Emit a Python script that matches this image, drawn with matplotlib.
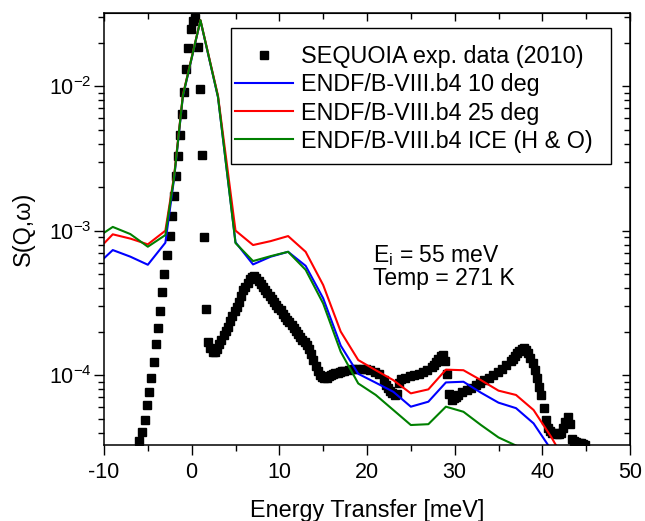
import numpy as np
import matplotlib
matplotlib.use("Agg")
import matplotlib.pyplot as plt
from matplotlib.ticker import LogLocator, MultipleLocator, NullFormatter
from matplotlib.patches import Rectangle

plt.rcParams['font.family'] = ['Liberation Sans', 'DejaVu Sans']
plt.rcParams['axes.unicode_minus'] = False
plt.rcParams['mathtext.fontset'] = 'custom'
plt.rcParams['mathtext.rm'] = 'Liberation Sans'
plt.rcParams['mathtext.it'] = 'Liberation Sans'

exp_e = [-5.97, -5.63, -5.32, -5.13, -4.9, -4.65, -4.34, -4.12, -3.89, -3.65,
         -3.35, -3.12, -2.85, -2.47, -2.24, -2.05, -1.82, -1.56, -1.37, -1.11,
         -0.88, -0.68, -0.39, -0.08, 0.18, 0.43, 0.68, 0.90, 1.16, 1.36,
         1.63, 1.89, 2.14, 2.39, 2.64, 2.89, 3.14, 3.39, 3.64, 3.89,
         4.14, 4.39, 4.64, 4.89, 5.14, 5.39, 5.64, 5.89, 6.14, 6.39,
         6.64, 6.89, 7.14, 7.39, 7.64, 7.89, 8.14, 8.39, 8.64, 8.89,
         9.14, 9.39, 9.64, 9.89, 10.14, 10.39, 10.64, 10.89, 11.14, 11.39,
         11.64, 11.89, 12.14, 12.39, 12.64, 12.89, 13.14, 13.39, 13.64, 13.89,
         14.14, 14.39, 14.64, 14.89, 15.14, 15.39, 15.64, 15.89, 16.14, 16.39,
         16.64, 16.89, 17.14, 17.39, 17.89, 18.39, 18.89, 19.39, 19.89, 20.39,
         20.89, 21.39, 21.89, 22.14, 22.39, 22.64, 22.89, 23.14, 23.39, 23.64,
         23.89, 24.39, 24.89, 25.39, 25.89, 26.39, 26.89, 27.39, 27.64, 27.89,
         28.14, 28.39, 28.64, 28.89, 29.14, 29.39, 29.64, 29.89, 30.14, 30.39,
         30.89, 31.39, 31.89, 32.39, 32.89, 33.39, 33.89, 34.39, 34.89, 35.39,
         35.89, 36.39, 36.64, 36.89, 37.14, 37.39, 37.64, 37.89, 38.14, 38.39,
         38.64, 38.89, 39.14, 39.39, 39.64, 39.89, 40.14, 40.39, 40.64, 40.89,
         41.14, 41.39, 41.64, 41.89, 42.14, 42.39, 42.64, 42.89, 43.14, 43.39,
         43.64, 43.89, 44.14, 44.39, 44.64, 44.89]
exp_s = [3.5e-5, 4.04e-5, 4.9e-5, 6.2e-5, 7.6e-5, 9.5e-5, 1.24e-4, 1.65e-4, 2.11e-4, 2.79e-4,
         3.73e-4, 4.97e-4, 6.77e-4, 9.16e-4, 1.26e-3, 1.73e-3, 2.38e-3, 3.30e-3, 4.56e-3, 6.4e-3,
         9.14e-3, 1.305e-2, 1.846e-2, 2.47e-2, 2.83e-2, 2.95e-2, 1.87e-2, 9.5e-3, 3.35e-3, 8.97e-4,
         2.85e-4, 1.69e-4, 1.55e-4, 1.45e-4, 1.44e-4, 1.52e-4, 1.63e-4, 1.76e-4, 1.90e-4, 2.02e-4,
         2.16e-4, 2.35e-4, 2.55e-4, 2.77e-4, 2.97e-4, 3.2e-4, 3.5e-4, 3.85e-4, 4.1e-4, 4.35e-4,
         4.6e-4, 4.8e-4, 4.85e-4, 4.7e-4, 4.5e-4, 4.3e-4, 4.1e-4, 3.9e-4, 3.7e-4, 3.5e-4,
         3.35e-4, 3.2e-4, 3.07e-4, 2.93e-4, 2.8e-4, 2.65e-4, 2.52e-4, 2.42e-4, 2.32e-4, 2.22e-4,
         2.12e-4, 2.02e-4, 1.92e-4, 1.83e-4, 1.74e-4, 1.68e-4, 1.62e-4, 1.52e-4, 1.40e-4, 1.27e-4,
         1.16e-4, 1.06e-4, 1.0e-4, 9.7e-5, 9.6e-5, 9.6e-5, 9.8e-5, 1.0e-4, 1.02e-4, 1.03e-4,
         1.04e-4, 1.05e-4, 1.06e-4, 1.07e-4, 1.08e-4, 1.10e-4, 1.11e-4, 1.11e-4, 1.10e-4, 1.08e-4,
         1.05e-4, 1.01e-4, 9.2e-5, 8.6e-5, 8.2e-5, 7.8e-5, 7.5e-5, 7.3e-5, 7.4e-5, 8.8e-5,
         9.4e-5, 9.6e-5, 9.8e-5, 1.0e-4, 1.02e-4, 1.05e-4, 1.08e-4, 1.13e-4, 1.18e-4, 1.24e-4,
         1.30e-4, 1.35e-4, 1.38e-4, 1.26e-4, 1.02e-4, 7.4e-5, 6.7e-5, 6.9e-5, 7.1e-5, 7.3e-5,
         7.6e-5, 7.9e-5, 8.2e-5, 8.5e-5, 8.8e-5, 9.2e-5, 9.6e-5, 1.0e-4, 1.05e-4, 1.1e-4,
         1.17e-4, 1.25e-4, 1.3e-4, 1.36e-4, 1.42e-4, 1.47e-4, 1.52e-4, 1.55e-4, 1.50e-4, 1.41e-4,
         1.32e-4, 1.22e-4, 1.09e-4, 9.5e-5, 8.3e-5, 7.3e-5, 5.9e-5, 4.9e-5, 4.3e-5, 4.1e-5,
         4.0e-5, 3.95e-5, 3.9e-5, 3.9e-5, 4.0e-5, 4.3e-5, 4.7e-5, 5.1e-5, 4.6e-5, 3.6e-5,
         3.5e-5, 3.45e-5, 3.4e-5, 3.38e-5, 3.35e-5, 3.3e-5]

# ENDF/B-VIII.b4 calculations
calc_e = [-11, -9, -7, -5, -3, -2, -1, 1, 3, 5, 7, 9, 11, 13, 15,
          17, 19, 21, 23, 25, 27, 29, 31, 33, 35, 37, 39, 41, 43]
s_10deg = [5.64e-4, 7.33e-4, 6.6e-4, 5.8e-4, 8.24e-4, 2.3e-3, 8.5e-3, 2.84e-2, 8.4e-3, 8.3e-4,
           5.83e-4, 6.59e-4, 7.13e-4, 5.7e-4, 3.4e-4, 1.6e-4, 1.02e-4, 8.85e-5, 7.66e-5, 6.04e-5,
           6.54e-5, 8.89e-5, 8.99e-5, 7.55e-5, 6.44e-5, 5.9e-5, 4.63e-5, 3.05e-5, 2.0e-5]
s_25deg = [7.05e-4, 9.42e-4, 8.8e-4, 8.03e-4, 9.98e-4, 2.4e-3, 8.7e-3, 2.86e-2, 8.6e-3, 1.0e-3,
           7.94e-4, 8.45e-4, 9.16e-4, 7.13e-4, 4.2e-4, 2.0e-4, 1.27e-4, 1.08e-4, 9.22e-5, 7.47e-5,
           7.96e-5, 1.09e-4, 1.08e-4, 9.22e-5, 7.8e-5, 7.28e-5, 5.73e-5, 3.74e-5, 2.3e-5]
s_ice = [8.79e-4, 1.06e-3, 9.46e-4, 7.73e-4, 9.31e-4, 2.35e-3, 8.6e-3, 2.86e-2, 8.43e-3, 8.2e-4,
         6.15e-4, 6.65e-4, 7.13e-4, 5.35e-4, 3.13e-4, 1.45e-4, 8.75e-5, 7.28e-5, 5.73e-5, 4.51e-5,
         4.57e-5, 6.04e-5, 5.57e-5, 4.51e-5, 3.7e-5, 3.25e-5, 2.7e-5, 2.3e-5, 2.0e-5]

labels = ['SEQUOIA exp. data (2010)', 'ENDF/B-VIII.b4 10 deg',
          'ENDF/B-VIII.b4 25 deg', 'ENDF/B-VIII.b4 ICE (H & O)']

fig = plt.figure(figsize=(6.45, 5.21), dpi=100)
ax = fig.add_axes([104/645, 1-445/521, 526/645, 431.7/521])

ax.plot(exp_e, exp_s, ls='none', marker='s', ms=6.4, color='black', mec='black', label=labels[0])
ax.plot(calc_e, s_10deg, color='#0000FF', lw=1.5, label=labels[1])
ax.plot(calc_e, s_25deg, color='#FF0000', lw=1.5, label=labels[2])
ax.plot(calc_e, s_ice, color='#008000', lw=1.5, label=labels[3])

ax.set_yscale('log')
ax.set_xlim(-10, 50)
ax.set_ylim(3.28e-5, 0.0319)

ax.xaxis.set_major_locator(MultipleLocator(10))
ax.xaxis.set_minor_locator(MultipleLocator(5))
ax.yaxis.set_major_locator(LogLocator(base=10, numticks=10))
ax.yaxis.set_minor_locator(LogLocator(base=10, subs=np.arange(2, 10), numticks=10))
ax.yaxis.set_minor_formatter(NullFormatter())

ax.tick_params(which='both', direction='out', width=1.0, labelsize=15.5)
ax.tick_params(which='major', length=7)
ax.tick_params(which='minor', length=4)
ax.tick_params(axis='x', pad=5)
ax.tick_params(axis='y', pad=2)
for sp in ax.spines.values():
    sp.set_linewidth(1.1)

# mirrored axes with inward ticks
top = ax.secondary_xaxis('top')
top.xaxis.set_major_locator(MultipleLocator(10))
top.xaxis.set_minor_locator(MultipleLocator(5))
top.tick_params(which='both', direction='in', labeltop=False, width=1.0)
top.tick_params(which='major', length=6)
top.tick_params(which='minor', length=4)
right = ax.secondary_yaxis('right')
right.yaxis.set_major_locator(LogLocator(base=10, numticks=10))
right.yaxis.set_minor_locator(LogLocator(base=10, subs=np.arange(2, 10), numticks=10))
right.yaxis.set_minor_formatter(NullFormatter())
right.tick_params(which='both', direction='in', labelright=False, width=1.0)
right.tick_params(which='major', length=6)
right.tick_params(which='minor', length=4)

ax.set_xlabel('Energy Transfer [meV]', fontsize=16.8, labelpad=12)
ax.set_ylabel('S(Q,ω)', fontsize=16.8, labelpad=10)

ax.text(0.511, 0.438, r'E$_{\mathregular{i}}$ = 55 meV', transform=ax.transAxes,
        fontsize=16.5, va='center', ha='left')
ax.text(0.511, 0.385, 'Temp = 271 K', transform=ax.transAxes,
        fontsize=16.5, va='center', ha='left')

# legend box drawn separately to match the original padding
ax.add_patch(Rectangle((0.2414, 0.6509), 0.7225, 0.3143, transform=ax.transAxes,
                       facecolor='white', edgecolor='black', lw=1.0, zorder=5))
leg = ax.legend(loc='upper left', bbox_to_anchor=(0.249, 0.926), frameon=False,
                fontsize=16.8, borderpad=0, borderaxespad=0, handlelength=2.5,
                handletextpad=0.34, labelspacing=0.22, numpoints=1)
leg.set_zorder(6)

fig.savefig('out.png', dpi=100)
